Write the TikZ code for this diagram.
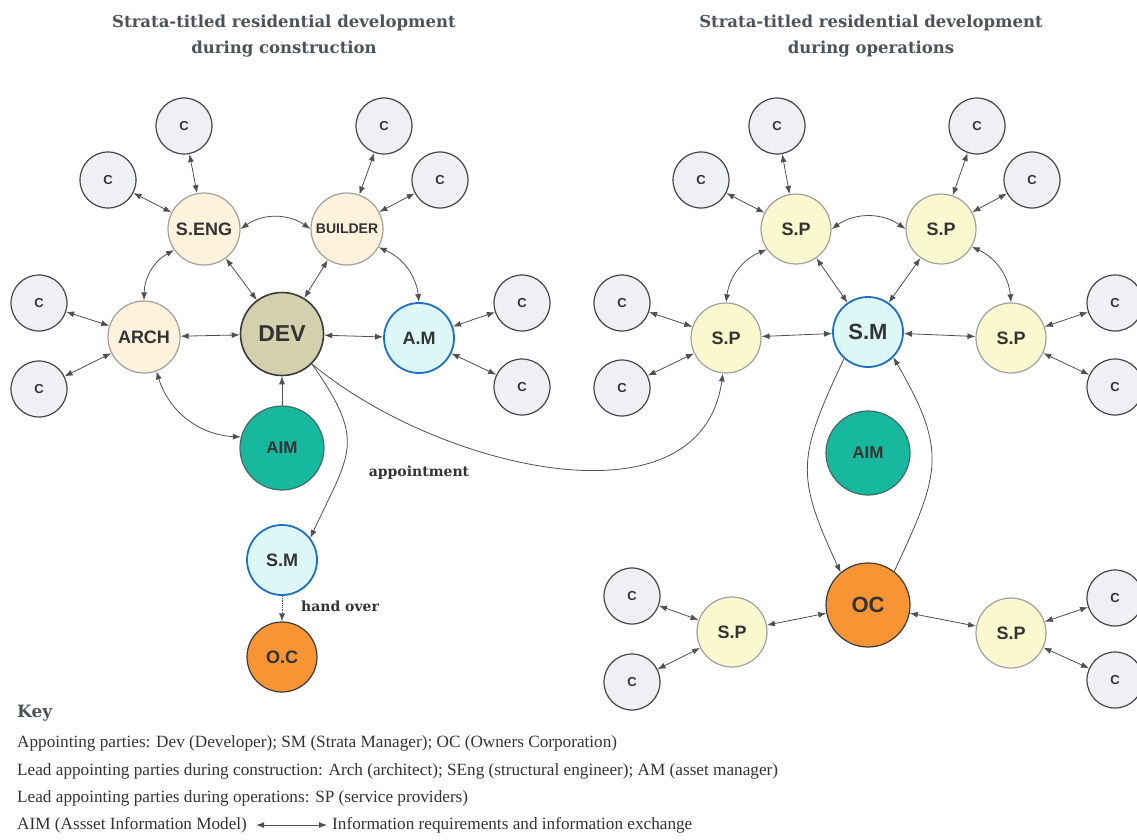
\documentclass[tikz,border=0pt]{standalone}
\usepackage{fontspec}
\setmainfont{Liberation Serif}
\setsansfont{Liberation Sans}
\newfontfamily\headfont{DejaVu Serif}
\usetikzlibrary{arrows.meta}
\definecolor{cfill}{HTML}{EEF0F3}
\definecolor{cdraw}{HTML}{444444}
\definecolor{leadfill}{HTML}{FDF2DB}
\definecolor{leaddraw}{HTML}{A0A0A0}
\definecolor{devfill}{HTML}{D2D0AD}
\definecolor{devdraw}{HTML}{3A3A3A}
\definecolor{mgrfill}{HTML}{DDF7F7}
\definecolor{mgrdraw}{HTML}{1F6FC5}
\definecolor{aimfill}{HTML}{17B89E}
\definecolor{aimdraw}{HTML}{3E6E66}
\definecolor{ocfill}{HTML}{F79433}
\definecolor{spfill}{HTML}{FAF8CE}
\definecolor{linkgray}{HTML}{505050}
\definecolor{nodetext}{HTML}{333333}
\definecolor{titlegray}{HTML}{4D535A}
\begin{document}
\begin{tikzpicture}[x=1pt,y=1pt,
>={Latex[length=8pt,width=6pt]},
link/.style={<->, draw=linkgray, line width=0.8pt},
oneway/.style={->, draw=linkgray, line width=0.8pt},
party/.style={circle, draw, line width=1.2pt, inner sep=0pt, text=nodetext},
cnode/.style={party, minimum size=56pt, fill=cfill, draw=cdraw,
 font=\sffamily\bfseries\fontsize{13}{13}\selectfont},
lead/.style={party, minimum size=72pt, fill=leadfill, draw=leaddraw,
 font=\sffamily\bfseries\fontsize{18}{18}\selectfont},
devnode/.style={party, minimum size=83pt, fill=devfill, draw=devdraw, line width=1.6pt,
 font=\sffamily\bfseries\fontsize{23}{23}\selectfont},
mgr/.style={party, minimum size=70pt, fill=mgrfill, draw=mgrdraw, line width=1.8pt,
 font=\sffamily\bfseries\fontsize{18}{18}\selectfont},
aim/.style={party, minimum size=84pt, fill=aimfill, draw=aimdraw,
 font=\sffamily\bfseries\fontsize{17}{17}\selectfont},
ocnode/.style={party, minimum size=70pt, fill=ocfill, draw=devdraw,
 font=\sffamily\bfseries\fontsize{18}{18}\selectfont},
spnode/.style={party, minimum size=70pt, fill=spfill, draw=leaddraw,
 font=\sffamily\bfseries\fontsize{18}{18}\selectfont},
heading/.style={align=center, text=titlegray,
 font=\headfont\bfseries\fontsize{16.5}{26}\selectfont},
lbl/.style={text=nodetext, font=\headfont\bfseries\fontsize{14}{14}\selectfont},
keyline/.style={anchor=west, inner sep=0pt, text=nodetext,
 font=\fontsize{17.2}{17}\selectfont}
]
\clip (0,0) rectangle (1137,-840);

% headings
\node[heading] (head1) at (284,-36) {Strata-titled residential development\\during construction};
\node[heading] (head2) at (871,-36) {Strata-titled residential development\\during operations};

% construction
\node[lead] (seng) at (204,-229) {S.ENG};
\node[lead, font=\sffamily\bfseries\fontsize{14}{14}\selectfont] (builder) at (347,-229) {BUILDER};
\node[lead] (arch) at (144,-337) {ARCH};
\node[devnode] (dev) at (282,-334) {DEV};
\node[mgr] (am) at (419,-338) {A.M};
\node[aim] (aiml) at (282,-448) {AIM};
\node[mgr] (sml) at (282,-560) {S.M};
\node[ocnode] (ocl) at (282,-657) {O.C};

% operations
\node[spnode] (sptl) at (796,-229) {S.P};
\node[spnode] (sptr) at (941,-229) {S.P};
\node[spnode] (spl) at (726,-338) {S.P};
\node[mgr, font=\sffamily\bfseries\fontsize{22}{22}\selectfont] (smr) at (868,-332) {S.M};
\node[spnode] (spr) at (1011,-338) {S.P};
\node[aim] (aimr) at (868,-453) {AIM};
\node[ocnode, minimum size=84pt, font=\sffamily\bfseries\fontsize{22}{22}\selectfont] (ocr) at (868,-605) {OC};
\node[spnode] (spbl) at (732,-632) {S.P};
\node[spnode] (spbr) at (1011,-633) {S.P};

% consultants
\foreach \n/\x/\y in {1/184/126, 2/108/180, 3/384/126, 4/440/180, 5/39/303, 6/39/389,
 7/522/303, 8/522/387, 9/777/126, 10/701/180, 11/977/126, 12/1032/180,
 13/622/303, 14/622/388, 15/1115/303, 16/1115/387, 17/632/596, 18/632/682,
 19/1115/598, 20/1115/680}
 \node[cnode] (c\n) at (\x,-\y) {C};

\foreach \a/\b in {seng/c1, seng/c2, builder/c3, builder/c4, arch/c5, arch/c6,
 am/c7, am/c8, sptl/c9, sptl/c10, sptr/c11, sptr/c12, spl/c13, spl/c14,
 spr/c15, spr/c16, spbl/c17, spbl/c18, spbr/c19, spbr/c20,
 seng/dev, builder/dev, arch/dev, dev/am,
 sptl/smr, sptr/smr, spl/smr, smr/spr, ocr/spbl, ocr/spbr}
 \draw[link] (\a) -- (\b);

\draw[link] (seng.east) to[bend left=35] (builder.west);
\draw[link] (seng.-145) to[bend right=30] (arch.north);
\draw[link] (builder.-30) to[bend left=30] (am.north);
\draw[link] (arch.-70) to[bend right=35] (aiml.165);
\draw[oneway] (aiml) -- (dev);

\draw[link] (sptl.east) to[bend left=35] (sptr.west);
\draw[link] (sptl.-145) to[bend right=30] (spl.north);
\draw[link] (sptr.-30) to[bend left=30] (spr.north);

% appointment and hand over
\draw[oneway] (dev.-45) to[out=-55, in=65, looseness=1.4] (sml.38);
\draw[oneway] (dev.-45) to[out=-40, in=-98] (spl.-95);
\draw[oneway, densely dotted] (sml) -- (ocl);
\node[lbl] (appt) at (419,-473) {appointment};
\node[lbl] (hand) at (340,-606) {hand over};

\draw[oneway] (smr.-132) to[out=-115, in=115, looseness=1.3] (ocr.130);
\draw[oneway] (ocr.52) to[out=65, in=-60, looseness=1.3] (smr.-45);

% key
\node[anchor=west, inner sep=0pt, text=titlegray, font=\headfont\bfseries\fontsize{17}{17}\selectfont] (key) at (17,-713) {Key};
\node[keyline] (k1) at (17,-743) {Appointing parties: Dev (Developer); SM (Strata Manager); OC (Owners Corporation)};
\node[keyline] (k2) at (17,-771) {Lead appointing parties during construction: Arch (architect); SEng (structural engineer); AM (asset manager)};
\node[keyline] (k3) at (17,-798) {Lead appointing parties during operations: SP (service providers)};
\node[keyline] (k4) at (17,-825) {AIM (Assset Information Model)};
\node[keyline] (k5) at (332,-825) {Information requirements and information exchange};
\draw[link] ([xshift=9pt]k4.east) -- ([xshift=-5pt]k5.west);
\end{tikzpicture}
\end{document}
